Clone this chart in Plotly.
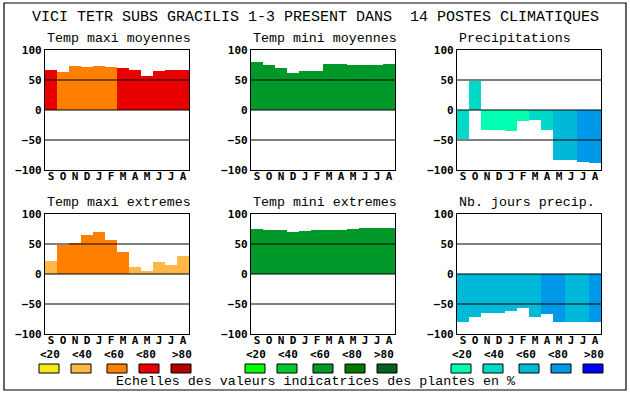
import plotly.graph_objects as go

W, H = 630, 394

main_title = "VICI TETR SUBS GRACILIS 1-3 PRESENT DANS  14 POSTES CLIMATIQUES"
footer = "Echelles des valeurs indicatrices des plantes en %"
months = ["S", "O", "N", "D", "J", "F", "M", "A", "M", "J", "J", "A"]
class_labels = ["<20", "<40", "<60", "<80", ">80"]
y_ticks = [-100, -50, 0, 50, 100]
ref_lines = [50, 0, -50]

temp_colors = ["#f8e818", "#ffb848", "#ff8000", "#e80000", "#b00000"]
green_colors = ["#00ff00", "#00c830", "#009828", "#007800", "#006020"]
blue_colors = ["#00ffb0", "#00d8c8", "#00b8d8", "#0098e8", "#0000ff"]

titles = ["Temp maxi moyennes", "Temp mini moyennes", "Precipitations",
          "Temp maxi extremes", "Temp mini extremes", "Nb. jours precip."]

tmax_moy = [67, 64, 74, 72, 74, 72, 70, 67, 57, 65.5, 67, 67]
tmax_moy_cls = [3, 2, 2, 2, 2, 2, 3, 3, 3, 3, 3, 3]

tmin_moy = [80.5, 75.5, 70.5, 62, 65.5, 65.5, 77, 77, 75.5, 75.5, 75.5, 77]
tmin_moy_cls = [2] * 12

precip = [-48, 49, -33, -33, -34.5, -18, -16, -33, -83, -83, -86, -88]
precip_cls = [1, 1, 0, 0, 0, 0, 1, 1, 2, 2, 3, 3]

tmax_ext = [22, 47.8, 52, 65.5, 70.5, 57, 37, 12, 5.5, 20.5, 15.5, 30.5]
tmax_ext_cls = [1, 2, 2, 2, 2, 2, 2, 1, 1, 1, 1, 1]

tmin_ext = [75.5, 74, 74, 70.5, 72, 74, 74, 74, 75.5, 77, 77, 77]
tmin_ext_cls = [2] * 12

jours = [-80.5, -72, -65.5, -65.5, -62, -57, -72, -67, -80.5, -80.5, -80.5, -80.5]
jours_cls = [2, 2, 2, 2, 2, 2, 2, 3, 3, 2, 2, 3]

values = [tmax_moy, tmin_moy, precip, tmax_ext, tmin_ext, jours]
classes = [tmax_moy_cls, tmin_moy_cls, precip_cls, tmax_ext_cls, tmin_ext_cls, jours_cls]
palettes = [temp_colors, green_colors, blue_colors, temp_colors, green_colors, blue_colors]

# layout geometry in pixels
col_x = [(45, 189), (251, 395), (457, 601)]
row_y = [(50, 170), (214, 334)]


def px_x(x):
    return x / W


def px_y(y):
    return 1 - y / H


tick_font = dict(family="DejaVu Sans Mono", size=11, color="black", weight="bold")
text_font = dict(family="Liberation Mono", size=13.3, color="black")

fig = go.Figure()
shapes = []
annotations = []

for i in range(6):
    r, c = divmod(i, 3)
    n = i + 1
    xa = "x" if n == 1 else f"x{n}"
    ya = "y" if n == 1 else f"y{n}"
    pal = palettes[i]
    fig.add_trace(go.Bar(
        x=list(range(len(months))), y=values[i],
        marker=dict(color=[pal[k] for k in classes[i]], line=dict(width=0)),
        width=1, xaxis=xa, yaxis=ya, showlegend=False, hoverinfo="skip",
    ))
    x0, x1 = col_x[c]
    y0, y1 = row_y[r]
    fig.update_layout({
        f"xaxis{'' if n == 1 else n}": dict(
            domain=[px_x(x0), px_x(x1)], range=[-0.5, 11.5], anchor=ya,
            tickvals=list(range(12)), ticktext=months, tickfont=tick_font,
            ticklabelstandoff=-4,
            showline=True, mirror=True, linecolor="black", linewidth=1.2,
            showgrid=False, zeroline=False, ticks="", fixedrange=True,
            automargin=False,
        ),
        f"yaxis{'' if n == 1 else n}": dict(
            domain=[px_y(y1), px_y(y0)], range=[-100, 100], anchor=xa,
            tickvals=y_ticks, tickfont=tick_font,
            showline=True, mirror=True, linecolor="black", linewidth=1.2,
            showgrid=False, zeroline=False, ticks="", fixedrange=True,
            automargin=False,
        ),
    })
    for v in ref_lines:
        shapes.append(dict(type="line", xref=f"{xa} domain", x0=0, x1=1,
                           yref=ya, y0=v, y1=v, layer="above",
                           line=dict(color="black", width=1.2)))
    annotations.append(dict(text=titles[i], x=px_x(x0), y=px_y(y0 - 11.5),
                            xref="paper", yref="paper", xanchor="left",
                            yanchor="middle", showarrow=False, font=text_font))

# legend swatches
legend_groups = [
    (temp_colors, [39, 71, 107, 139, 171], [39, 71, 103, 135, 171]),
    (green_colors, [245, 277, 313, 345, 377], [245, 277, 309, 341, 373]),
    (blue_colors, [451, 483, 519, 551, 583], [451, 483, 515, 547, 583]),
]
for pal, rect_x, lab_x in legend_groups:
    for k in range(5):
        shapes.append(dict(type="rect", xref="paper", yref="paper",
                           x0=px_x(rect_x[k]), x1=px_x(rect_x[k] + 20),
                           y0=px_y(373), y1=px_y(364), fillcolor=pal[k],
                           line=dict(color="black", width=1)))
        annotations.append(dict(text=class_labels[k], x=px_x(lab_x[k]), y=px_y(354.5),
                                xref="paper", yref="paper", xanchor="left",
                                yanchor="middle", showarrow=False, font=tick_font,
                                borderpad=0))

# outer frame
shapes.append(dict(type="rect", xref="paper", yref="paper",
                   x0=px_x(4), x1=px_x(626), y0=px_y(390), y1=px_y(3),
                   line=dict(color="black", width=1.2), layer="below"))

annotations.append(dict(text=main_title, x=0.5, y=px_y(17.5), xref="paper", yref="paper",
                        xanchor="center", yanchor="middle", showarrow=False,
                        font=dict(family="Liberation Mono", size=15, color="black")))
annotations.append(dict(text=footer, x=px_x(315), y=px_y(381.5), xref="paper", yref="paper",
                        xanchor="center", yanchor="middle", showarrow=False, font=text_font))

fig.update_layout(
    width=W, height=H, margin=dict(l=0, r=0, t=0, b=0, autoexpand=False),
    paper_bgcolor="white", plot_bgcolor="white", bargap=0,
    shapes=shapes, annotations=annotations, showlegend=False,
)

fig.write_html(
    "out.html",
    config={"displayModeBar": False},
    post_script="document.body.style.margin='0';document.body.style.overflow='hidden';",
)
